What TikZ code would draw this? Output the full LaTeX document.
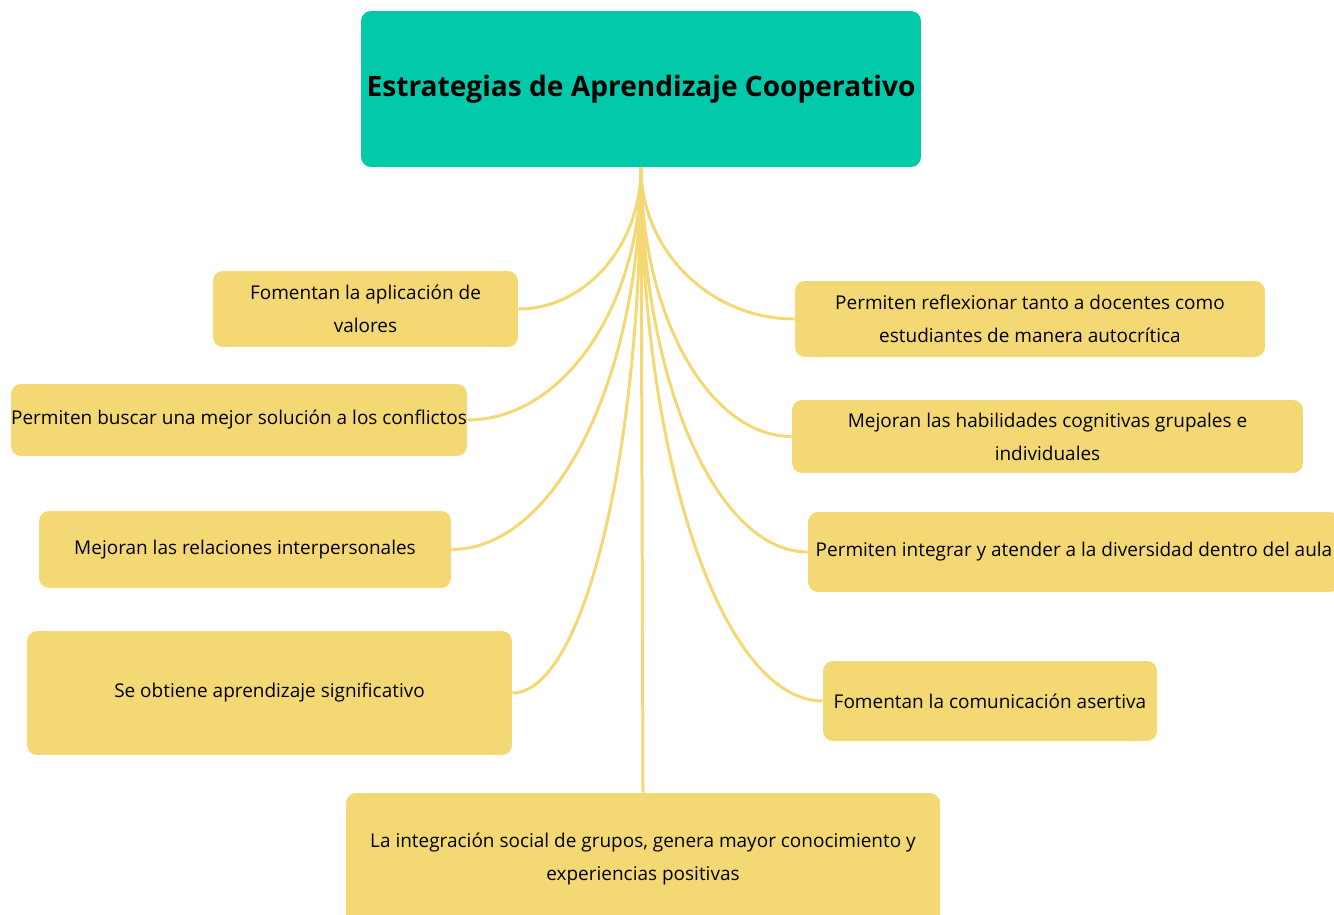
\documentclass[tikz,border=0pt]{standalone}
\usepackage{fontspec}
\setmainfont{Open Sans}
\usepackage{xcolor}
\usetikzlibrary{calc}

\definecolor{rootgreen}{HTML}{02C9A9}
\definecolor{ideayellow}{HTML}{F4D873}

\begin{document}
\begin{tikzpicture}[
    x=0.02cm, y=-0.02cm,
    root/.style={rectangle, rounded corners=0.2cm, fill=rootgreen, align=center, inner sep=0pt, font=\fontsize{16}{19}\selectfont\bfseries},
    idea/.style={rectangle, rounded corners=0.2cm, fill=ideayellow, align=center, inner sep=0pt, font=\fontsize{10.8}{18.8}\selectfont},
    branch/.style={draw=ideayellow, line width=1.7pt,
        to path={.. controls ($(\tikztostart)!0.55!(\tikztostart |- \tikztotarget)$)
                        and ($(\tikztotarget)!0.55!(\tikztotarget -| \tikztostart)$) .. (\tikztotarget)}}
]
\useasboundingbox (0,0) rectangle (1334,915);

% Central topic
\node[root, minimum width=11.2cm, minimum height=3.12cm] (main) at (641,89) {Estrategias de Aprendizaje Cooperativo};

% Left ideas
\node[idea, minimum width=6.1cm, minimum height=1.52cm] (valores) at (365.5,309) {Fomentan la aplicación de\\valores};
\node[idea, minimum width=9.12cm, minimum height=1.44cm] (conflictos) at (239,420) {Permiten buscar una mejor solución a los conflictos};
\node[idea, minimum width=8.24cm, minimum height=1.54cm] (relaciones) at (245,549.5) {Mejoran las relaciones interpersonales};
\node[idea, minimum width=9.7cm, minimum height=2.48cm] (significativo) at (269.5,693) {Se obtiene aprendizaje significativo};

% Right ideas
\node[idea, minimum width=9.4cm, minimum height=1.52cm] (reflexionar) at (1030,319) {Permiten reflexionar tanto a docentes como\\estudiantes de manera autocrítica};
\node[idea, minimum width=10.22cm, minimum height=1.46cm] (habilidades) at (1047.5,436.5) {Mejoran las habilidades cognitivas grupales e\\individuales};
\node[idea, minimum width=10.64cm, minimum height=1.6cm] (diversidad) at (1074,552) {Permiten integrar y atender a la diversidad dentro del aula};
\node[idea, minimum width=6.68cm, minimum height=1.6cm] (comunicacion) at (990,701) {Fomentan la comunicación asertiva};

% Bottom idea
\node[idea, minimum width=11.88cm, minimum height=2.64cm] (integracion) at (643,859) {La integración social de grupos, genera mayor conocimiento y\\experiencias positivas};

% Branches
\draw[branch] (main.south) to (valores.east);
\draw[branch] (main.south) to (conflictos.east);
\draw[branch] (main.south) to (relaciones.east);
\draw[branch] (main.south) to (significativo.east);
\draw[branch] (main.south) to (reflexionar.west);
\draw[branch] (main.south) to (habilidades.west);
\draw[branch] (main.south) to (diversidad.west);
\draw[branch] (main.south) to (comunicacion.west);
\draw[branch] (main.south) -- (integracion.north);
\end{tikzpicture}
\end{document}
